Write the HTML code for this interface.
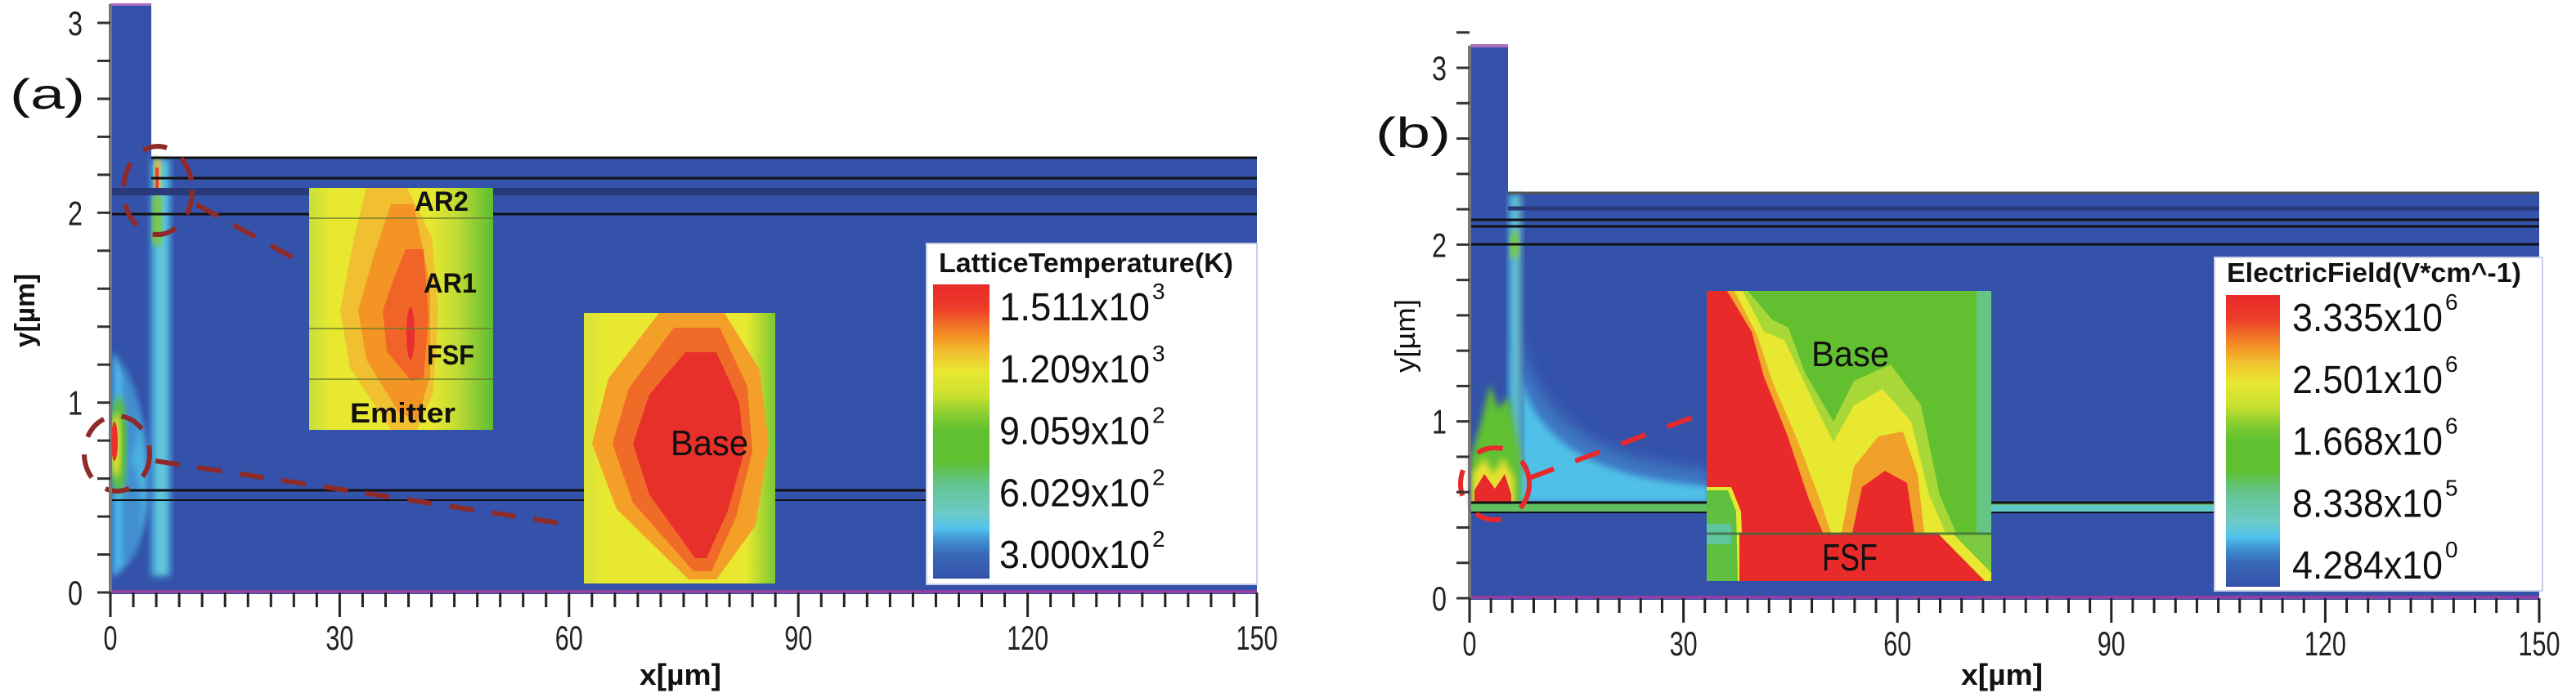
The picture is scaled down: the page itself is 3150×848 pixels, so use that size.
<!DOCTYPE html>
<html><head><meta charset="utf-8"><style>
html,body{margin:0;padding:0;background:#fff;}
svg{display:block;font-family:"Liberation Sans",sans-serif;}
</style></head><body>
<svg id="fig" width="3150" height="848" viewBox="0 0 3150 848" xmlns="http://www.w3.org/2000/svg">
<defs>
  <linearGradient id="barL" x1="0" y1="0" x2="0" y2="1">
    <stop offset="0" stop-color="#e82a2a"/><stop offset="0.08" stop-color="#ec3c28"/>
    <stop offset="0.13" stop-color="#f06a28"/><stop offset="0.18" stop-color="#f49424"/>
    <stop offset="0.23" stop-color="#f0c030"/><stop offset="0.3" stop-color="#e8e830"/>
    <stop offset="0.38" stop-color="#c8e030"/><stop offset="0.45" stop-color="#80cc30"/>
    <stop offset="0.5" stop-color="#5fc030"/><stop offset="0.6" stop-color="#5fc030"/>
    <stop offset="0.68" stop-color="#64c490"/><stop offset="0.78" stop-color="#6ccac8"/>
    <stop offset="0.83" stop-color="#50c2ec"/><stop offset="0.87" stop-color="#4090d0"/>
    <stop offset="0.92" stop-color="#3868b8"/><stop offset="1" stop-color="#3452aa"/>
  </linearGradient>
  <linearGradient id="in1bg" x1="0" y1="0" x2="1" y2="0">
    <stop offset="0" stop-color="#c6e03a"/><stop offset="0.12" stop-color="#e8e830"/>
    <stop offset="0.65" stop-color="#e8e830"/><stop offset="0.8" stop-color="#c4dc34"/>
    <stop offset="1" stop-color="#5cbe30"/>
  </linearGradient>
  <linearGradient id="in2bg" x1="0" y1="0" x2="1" y2="0">
    <stop offset="0" stop-color="#d8e238"/><stop offset="0.1" stop-color="#e8e830"/>
    <stop offset="0.85" stop-color="#e8e830"/><stop offset="1" stop-color="#7cc832"/>
  </linearGradient>
  <linearGradient id="stripL" x1="0" y1="0" x2="1" y2="0">
    <stop offset="0" stop-color="#3452aa"/><stop offset="0.3" stop-color="#50c2ec"/>
    <stop offset="0.55" stop-color="#6ccac8"/><stop offset="0.8" stop-color="#50c2ec"/>
    <stop offset="1" stop-color="#3452aa"/>
  </linearGradient>
  <linearGradient id="stripR" x1="0" y1="0" x2="1" y2="0">
    <stop offset="0" stop-color="#3452aa"/><stop offset="0.3" stop-color="#50c2ec"/>
    <stop offset="0.6" stop-color="#6ccac8"/><stop offset="1" stop-color="#3452aa"/>
  </linearGradient>
  <filter id="blur4"><feGaussianBlur stdDeviation="4"/></filter>
  <filter id="blur8"><feGaussianBlur stdDeviation="8"/></filter>
</defs>

<!-- ============ PANEL A ============ -->
<g>
  <rect x="135" y="5" width="50" height="722" fill="#3452aa"/>
  <rect x="135" y="192" width="1402" height="535" fill="#3452aa"/>
  <rect x="135" y="4" width="50" height="3" fill="#b070c0"/>
  <g>
    <rect x="182" y="195" width="28" height="510" fill="url(#stripL)" filter="url(#blur4)"/>
    <path d="M137,430 C175,480 185,560 180,620 C175,660 160,690 140,705 L137,705 Z" fill="#50c2ec" opacity="0.85" filter="url(#blur4)"/>
    <path d="M150,440 C175,490 175,520 160,560 C175,600 178,640 165,680 L150,690 Z" fill="#3e78c4" opacity="0.6" filter="url(#blur4)"/>
    <ellipse cx="145" cy="545" rx="10" ry="60" fill="#5fc030" filter="url(#blur4)"/>
    <ellipse cx="142" cy="545" rx="6" ry="40" fill="#e8e030" filter="url(#blur4)"/>
    <ellipse cx="140" cy="540" rx="4" ry="24" fill="#e83030"/>
    <rect x="188" y="194" width="9" height="45" fill="#e8c030" filter="url(#blur4)"/>
    <rect x="190" y="205" width="4" height="30" fill="#e84030"/>
    <rect x="186" y="240" width="12" height="60" fill="#7cc840" filter="url(#blur4)"/>
  </g>
  <g stroke="#111" stroke-width="3">
    <line x1="185" y1="193" x2="1537" y2="193"/>
    <line x1="185" y1="218" x2="1537" y2="218"/>
    <line x1="135" y1="262" x2="1537" y2="262"/>
    <line x1="135" y1="600" x2="1537" y2="600"/>
    <line x1="135" y1="612" x2="1537" y2="612" stroke-width="2"/>
  </g>
  <rect x="135" y="230" width="1402" height="9" fill="#2a3a78"/>
  <rect x="135" y="722" width="1402" height="4" fill="#9040a0"/>

  <g transform="translate(378,230)">
    <rect width="225" height="296" fill="url(#in1bg)"/>
    <polygon points="70,0 120,0 150,60 158,150 152,250 132,296 100,296 50,220 38,150 55,60" fill="#f0c030"/>
    <polygon points="100,20 128,20 148,120 148,230 132,285 110,275 70,210 60,150 80,80" fill="#f49424"/>
    <polygon points="118,75 140,75 146,160 140,232 125,236 95,200 90,150 104,110" fill="#f06428"/>
    <ellipse cx="124" cy="178" rx="5" ry="32" fill="#e83030"/>
    <g stroke="#6a7a30" stroke-width="2" opacity="0.7">
      <line x1="0" y1="37" x2="225" y2="37"/><line x1="0" y1="172" x2="225" y2="172"/><line x1="0" y1="234" x2="225" y2="234"/>
    </g>
    <g font-weight="bold" font-size="34" fill="#111">
      <text x="129" y="28" textLength="66" lengthAdjust="spacingAndGlyphs">AR2</text>
      <text x="140" y="128" textLength="65" lengthAdjust="spacingAndGlyphs">AR1</text>
      <text x="144" y="216" textLength="58" lengthAdjust="spacingAndGlyphs">FSF</text>
      <text x="50" y="287" textLength="129" lengthAdjust="spacingAndGlyphs">Emitter</text>
    </g>
  </g>
  <g transform="translate(714,383)">
    <rect width="234" height="331" fill="url(#in2bg)"/>
    <polygon points="92,0 172,0 215,70 226,160 210,260 162,326 128,326 40,240 10,160 30,80" fill="#f4a028"/>
    <polygon points="110,18 166,18 200,90 206,170 186,250 156,316 134,316 60,232 35,160 55,92" fill="#f06a28"/>
    <polygon points="124,48 162,48 190,110 196,170 176,242 150,300 136,300 80,222 60,160 80,100" fill="#e8302a"/>
    <text x="106" y="174" font-size="44" fill="#111" textLength="95" lengthAdjust="spacingAndGlyphs">Base</text>
  </g>
  <g fill="none" stroke="#8e2a2a" stroke-width="6" stroke-dasharray="30,22">
    <ellipse cx="193" cy="233" rx="42" ry="54"/>
    <ellipse cx="143" cy="555" rx="40" ry="46"/>
    <line x1="240" y1="250" x2="365" y2="319"/>
    <line x1="190" y1="564" x2="690" y2="641"/>
  </g>
  <g>
    <rect x="1133" y="298" width="404" height="417" fill="#fff" stroke="#c8d0e8" stroke-width="2"/>
    <text x="1148" y="333" font-size="33" font-weight="bold" fill="#111" textLength="360" lengthAdjust="spacingAndGlyphs">LatticeTemperature(K)</text>
    <rect x="1141" y="348" width="69" height="360" fill="url(#barL)"/>
    <g id="legLabelsA"></g>
  </g>
  <text x="12" y="133" font-size="52" fill="#111" textLength="92" lengthAdjust="spacingAndGlyphs">(a)</text>
  <text transform="translate(42,380) rotate(-90)" text-anchor="middle" font-size="34" font-weight="bold" fill="#111" textLength="90" lengthAdjust="spacingAndGlyphs">y[µm]</text>
  <text x="832" y="838" text-anchor="middle" font-size="36" font-weight="bold" fill="#111" textLength="100" lengthAdjust="spacingAndGlyphs">x[µm]</text>
  <g id="axesA"></g>
</g>

<!-- ============ PANEL B ============ -->
<g>
  <rect x="1798" y="56" width="46" height="678" fill="#3452aa"/>
  <rect x="1798" y="235" width="1307" height="499" fill="#3452aa"/>
  <rect x="1798" y="54" width="46" height="4" fill="#b070c0"/>
  <g>
    <path d="M1852,380 C1870,520 1960,565 2090,575 L2090,615 L1852,615 Z" fill="#3e78c4" filter="url(#blur8)"/>
    <path d="M1855,450 C1880,550 1960,585 2090,595 L2090,615 L1855,615 Z" fill="#50c0e8" filter="url(#blur4)"/>
    <rect x="1843" y="238" width="20" height="340" fill="url(#stripR)" filter="url(#blur4)"/>
    <ellipse cx="1852" cy="300" rx="6" ry="18" fill="#7cc840" filter="url(#blur4)"/>
    <path d="M1798,560 L1810,520 L1822,470 L1832,500 L1845,485 L1860,560 L1860,618 L1798,618 Z" fill="#60c030" filter="url(#blur4)"/>
    <path d="M1800,580 L1815,560 L1826,580 L1838,560 L1852,585 L1852,618 L1800,618 Z" fill="#e8e030" filter="url(#blur4)"/>
    <path d="M1803,600 L1815,580 L1828,598 L1840,580 L1848,605 L1848,618 L1803,618 Z" fill="#e82a2a"/>
    <rect x="1798" y="616" width="1307" height="11" fill="#60c060"/>
    <rect x="2433" y="618" width="672" height="8" fill="#60c8c8"/>
  </g>
  <g stroke="#111" stroke-width="3">
    <line x1="1844" y1="236" x2="3105" y2="236" stroke="#555"/>
    <line x1="1844" y1="255" x2="3105" y2="255" stroke="#2a3a78" stroke-width="5"/>
    <line x1="1798" y1="269" x2="3105" y2="269"/>
    <line x1="1798" y1="277" x2="3105" y2="277"/>
    <line x1="1798" y1="299" x2="3105" y2="299"/>
    <line x1="1798" y1="615" x2="3105" y2="615"/>
    <line x1="1798" y1="627" x2="3105" y2="627" stroke-width="2"/>
  </g>
  <rect x="1798" y="729" width="1307" height="4" fill="#9040a0"/>
  <g transform="translate(2087,356)">
    <rect width="348" height="355" fill="#62c030"/>
    <rect x="330" width="18" height="300" fill="#68c8c0" opacity="0.6"/>
    <polygon points="0,0 50,0 80,35 100,45 120,100 155,160 180,110 225,90 262,140 285,250 305,296 0,296" fill="#a8d838"/>
    <polygon points="0,0 44,0 70,50 95,60 130,135 155,185 180,140 215,120 250,160 272,250 292,296 0,296" fill="#e8e830"/>
    <polygon points="0,0 34,0 62,55 80,110 112,185 140,260 152,296 0,296" fill="#f0a828"/>
    <polygon points="165,296 180,215 210,178 240,172 258,225 266,296" fill="#f0a028"/>
    <polygon points="178,296 190,240 218,220 245,235 254,296" fill="#e82a2a"/>
    <polygon points="0,0 25,0 55,50 70,105 98,175 125,255 142,296 0,296" fill="#e82a2a"/>
    <polygon points="0,240 30,240 42,270 45,355 0,355" fill="#e8e830"/>
    <polygon points="0,244 26,244 36,270 38,355 0,355" fill="#5fc040"/>
    <rect x="0" y="285" width="30" height="25" fill="#60c8c8" opacity="0.7"/>
    <rect x="40" y="296" width="308" height="59" fill="#e82a2a"/>
    <polygon points="282,296 348,296 348,355 340,355" fill="#e8e830"/>
    <polygon points="300,296 348,296 348,345" fill="#7cc840"/>
    <line x1="0" y1="297" x2="348" y2="297" stroke="#3a6a40" stroke-width="3" opacity="0.8"/>
    <text x="128" y="92" font-size="44" fill="#111" textLength="95" lengthAdjust="spacingAndGlyphs">Base</text>
    <text x="141" y="342" font-size="46" fill="#111" textLength="68" lengthAdjust="spacingAndGlyphs">FSF</text>
  </g>
  <g fill="none" stroke="#e8282a" stroke-width="6" stroke-dasharray="32,28">
    <ellipse cx="1828" cy="592" rx="42" ry="44"/>
    <line x1="1870" y1="585" x2="2085" y2="505"/>
  </g>
  <g>
    <rect x="2708" y="315" width="401" height="408" fill="#fff" stroke="#c8d0e8" stroke-width="2"/>
    <text x="2723" y="345" font-size="33" font-weight="bold" fill="#111" textLength="360" lengthAdjust="spacingAndGlyphs">ElectricField(V*cm^-1)</text>
    <rect x="2722" y="361" width="66" height="357" fill="url(#barL)"/>
    <g id="legLabelsB"></g>
  </g>
  <text x="1682" y="180" font-size="52" fill="#111" textLength="92" lengthAdjust="spacingAndGlyphs">(b)</text>
  <text transform="translate(1730,411) rotate(-90)" text-anchor="middle" font-size="34" fill="#111" textLength="90" lengthAdjust="spacingAndGlyphs">y[µm]</text>
  <text x="2448" y="838" text-anchor="middle" font-size="36" font-weight="bold" fill="#111" textLength="100" lengthAdjust="spacingAndGlyphs">x[µm]</text>
  <g id="axesB"></g>
</g>
</svg>
<script>
const xTicks = [0, 30, 60, 90, 120, 150];
const yTicks = [0, 1, 2, 3];
const legendA = ["1.511", "1.209", "9.059", "6.029", "3.000"];
const legendAExp = ["3", "3", "2", "2", "2"];
const legendB = ["3.335", "2.501", "1.668", "8.338", "4.284"];
const legendBExp = ["6", "6", "6", "5", "0"];

const NS = "http://www.w3.org/2000/svg";
function mk(tag, attrs, parent) {
  const e = document.createElementNS(NS, tag);
  for (const k in attrs) e.setAttribute(k, attrs[k]);
  parent.appendChild(e);
  return e;
}
function drawAxes(gid, p) {
  const g = document.getElementById(gid);
  const sx = v => p.x0 + (v - 0) * (p.x1 - p.x0) / 150;
  const sy = v => p.y0 + v * (p.y3 - p.y0) / 3;
  const ax = mk("line", {x1: p.x0, y1: p.y0, x2: p.x0, y2: p.ytop, stroke: "#777", "stroke-width": 4}, g);
  
  
  for (let v = 0; v <= 3.21; v += 0.2) {
    const y = sy(v);
    const t = mk("line", {x1: p.x0 - 16, y1: y, x2: p.x0, y2: y, stroke: "#333", "stroke-width": 3}, g);
    
    
  }
  yTicks.forEach(v => {
    const t = mk("text", {x: p.ylabx, y: sy(v) + 15, "font-size": 42, fill: "#222", "text-anchor": "middle", textLength: 18, lengthAdjust: "spacingAndGlyphs"}, g);
    
    
    t.textContent = v;
  });
  for (let v = 0; v <= 150; v += 3) {
    const x = sx(v);
    const major = v % 30 === 0;
    const t = mk("line", {x1: x, y1: p.y0, x2: x, y2: p.y0 + (major ? 30 : 18), stroke: "#222", "stroke-width": 3}, g);
    
    
  }
  xTicks.forEach(v => {
    const s = String(v);
    const t = mk("text", {x: sx(v), y: p.y0 + 70, "font-size": 42, fill: "#222", "text-anchor": "middle", textLength: 17 * s.length, lengthAdjust: "spacingAndGlyphs"}, g);
    
    
    t.textContent = s;
  });
}
drawAxes("axesA", {x0: 135, x1: 1537, y0: 725, y3: 28, ytop: 5, ylabx: 92});
drawAxes("axesB", {x0: 1797, x1: 3105, y0: 732, y3: 83, ytop: 56, ylabx: 1760});

function drawLegend(gid, vals, exps, x, yTop, yBot) {
  const g = document.getElementById(gid);
  const step = (yBot - yTop) / (vals.length - 1);
  vals.forEach((v, i) => {
    const y = yTop + i * step;
    const t = mk("text", {x: x, y: y, "font-size": 48, fill: "#111", textLength: 184, lengthAdjust: "spacingAndGlyphs"}, g);
    
    
    t.textContent = v + "x10";
    const s = mk("text", {x: x + 187, y: y - 26, "font-size": 28, fill: "#111"}, g);
    
    
    s.textContent = exps[i];
  });
}
drawLegend("legLabelsA", legendA, legendAExp, 1222, 392, 695);
drawLegend("legLabelsB", legendB, legendBExp, 2803, 405, 708);
</script>
</body></html>
